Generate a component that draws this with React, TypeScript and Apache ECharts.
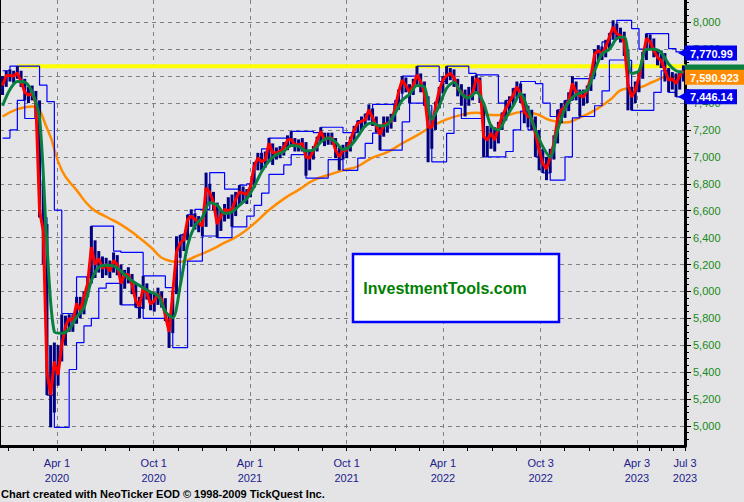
import React, { useEffect, useRef } from "react";
import * as echarts from "echarts";

// ---------- data (weekly, first week ending 2019-12-20) ----------
const firstWeek = "2019-12-20";

const closeVals = [
  7530, 7605, 7605, 7600, 7625, 7560, 7480, 7460, 7470, 7400,
  6600, 6450, 5400, 5230, 5480, 5380, 5600, 5740, 5800, 5780,
  5910, 5860, 5960, 6060, 6330, 6200, 6245, 6170, 6200, 6150,
  6230, 6200, 6060, 6125, 6125, 6050, 5930, 5890, 6030, 5990,
  5905, 5930, 5980, 5940, 5820, 5700, 5990, 6290, 6360, 6385,
  6535, 6560, 6535, 6510, 6485, 6770, 6735, 6660, 6500, 6560,
  6610, 6600, 6610, 6685, 6740, 6730, 6720, 6780, 6930, 6990,
  6965, 6980, 7100, 7030, 7030, 7040, 7065, 7125, 7130, 7090,
  7090, 7100, 7000, 6990, 7050, 7125, 7190, 7125, 7140, 7140,
  7050, 7000, 7050, 7050, 7125, 7200, 7250, 7265, 7275, 7350,
  7290, 7230, 7165, 7240, 7250, 7265, 7350, 7480, 7570, 7530,
  7480, 7530, 7610, 7560, 7470, 7220, 7220, 7370, 7495, 7570,
  7605, 7620, 7590, 7510, 7480, 7445, 7445, 7470, 7580, 7560,
  7150, 7125, 7175, 7125, 7220, 7300, 7360, 7410, 7460, 7520,
  7470, 7335, 7300, 7285, 7175, 7050, 6950, 6910, 7000, 7100,
  7280, 7350, 7370, 7420, 7545, 7480, 7455, 7445, 7495, 7595,
  7765, 7790, 7765, 7815, 7890, 7965, 7915, 7900, 7855, 7540,
  7445, 7495, 7595, 7740, 7880, 7855, 7790, 7740, 7715, 7645,
  7570, 7580, 7545, 7605, 7640,
];

const highVals = [
  7600, 7640, 7650, 7640, 7674, 7640, 7580, 7520, 7530, 7490,
  7420, 6830, 6500, 5600, 5620, 5600, 5830, 5820, 5830, 5830,
  5960, 5960, 6000, 6110, 6486, 6380, 6300, 6260, 6250, 6230,
  6290, 6270, 6200, 6160, 6180, 6130, 6060, 5960, 6115, 6060,
  6000, 5980, 6028, 6000, 5950, 5830, 6000, 6410, 6420, 6430,
  6570, 6610, 6580, 6560, 6540, 6883, 6800, 6740, 6660, 6600,
  6650, 6700, 6720, 6740, 6790, 6780, 6760, 6800, 6960, 7030,
  7030, 7040, 7140, 7100, 7070, 7080, 7110, 7160, 7190, 7140,
  7130, 7140, 7110, 7050, 7080, 7150, 7220, 7180, 7180, 7180,
  7140, 7070, 7090, 7110, 7150, 7230, 7270, 7300, 7320, 7390,
  7360, 7300, 7240, 7300, 7300, 7320, 7390, 7500, 7600, 7590,
  7540, 7580, 7674, 7620, 7560, 7450, 7300, 7410, 7520, 7600,
  7674, 7660, 7650, 7580, 7540, 7500, 7520, 7600, 7610, 7590,
  7400, 7230, 7240, 7220, 7260, 7330, 7420, 7450, 7510, 7560,
  7545, 7470, 7380, 7350, 7300, 7200, 7060, 7000, 7060, 7160,
  7350, 7400, 7420, 7480, 7600, 7560, 7500, 7500, 7530, 7620,
  7800, 7830, 7820, 7870, 7920, 8015, 7990, 7960, 7930, 7800,
  7520, 7560, 7640, 7780, 7916, 7910, 7880, 7800, 7790, 7771,
  7660, 7630, 7620, 7640, 7680,
];

const lowVals = [
  7460, 7520, 7560, 7550, 7580, 7520, 7420, 7400, 7420, 7290,
  6550, 6200, 5230, 4990, 5100, 5300, 5480, 5600, 5700, 5700,
  5760, 5800, 5830, 5960, 6060, 6100, 6140, 6100, 6120, 6100,
  6140, 6120, 5900, 6020, 6060, 5980, 5880, 5800, 5870, 5940,
  5860, 5850, 5900, 5880, 5780, 5580, 5690, 5980, 6250, 6300,
  6380, 6480, 6460, 6440, 6410, 6480, 6660, 6600, 6400, 6450,
  6520, 6540, 6480, 6560, 6640, 6660, 6650, 6700, 6770, 6900,
  6900, 6920, 6960, 6940, 6980, 6990, 7010, 7050, 7080, 7040,
  7040, 7040, 6860, 6900, 6980, 7040, 7110, 7080, 7090, 7090,
  6990, 6900, 6980, 6990, 7040, 7110, 7180, 7200, 7220, 7270,
  7230, 7180, 7050, 7150, 7180, 7210, 7260, 7350, 7470, 7480,
  7400, 7460, 7520, 7480, 7380, 6960, 7060, 7200, 7360, 7470,
  7540, 7570, 7520, 7450, 7380, 7300, 7380, 7420, 7480, 7400,
  7000, 7000, 7060, 7040, 7100, 7200, 7270, 7340, 7380, 7440,
  7400, 7250, 7220, 7200, 7000, 6900, 6880, 6827, 6880, 6980,
  7100, 7250, 7290, 7340, 7420, 7420, 7300, 7380, 7400, 7490,
  7600, 7720, 7720, 7740, 7800, 7870, 7870, 7850, 7750, 7346,
  7346, 7400, 7480, 7580, 7720, 7800, 7740, 7680, 7660, 7560,
  7480, 7500, 7446, 7500, 7560,
];

// every 2nd week
const greenMA = [
  7380, 7500, 7560, 7555, 7480, 7290, 6350, 5700, 5690, 5720,
  5810, 5880, 6080, 6180, 6195, 6190, 6150, 6100, 6060, 6028,
  5995, 5970, 5850, 5805, 6040, 6340, 6490, 6550, 6660, 6640,
  6580, 6590, 6640, 6690, 6780, 6890, 6970, 7015, 7040, 7085,
  7078, 7045, 7050, 7110, 7140, 7110, 7055, 7080, 7150, 7230,
  7251, 7230, 7240, 7320, 7420, 7465, 7530, 7520, 7280, 7380,
  7510, 7555, 7470, 7440, 7480, 7400, 7230, 7200, 7290, 7380,
  7470, 7350, 7200, 7075, 7000, 7200, 7360, 7440, 7475, 7495,
  7640, 7765, 7800, 7880, 7890, 7620, 7640, 7800, 7800, 7775,
  7690, 7640, 7630,
];

const upperBand = [
  7640, 7674, 7674, 7674, 7674, 7533, 7410, 6604, 5836, 5836,
  6108, 6108, 6486, 6486, 6486, 6300, 6290, 6290, 6290, 6115,
  6115, 6115, 6028, 6000, 6420, 6570, 6610, 6610, 6883, 6883,
  6760, 6760, 6790, 6800, 6960, 7060, 7140, 7140, 7140, 7190,
  7190, 7190, 7180, 7220, 7220, 7220, 7180, 7180, 7270, 7320,
  7390, 7390, 7390, 7420, 7600, 7600, 7674, 7674, 7674, 7560,
  7674, 7674, 7674, 7620, 7610, 7610, 7610, 7400, 7420, 7510,
  7560, 7560, 7545, 7400, 7300, 7350, 7420, 7581, 7581, 7581,
  7792, 7854, 7920, 8015, 8015, 7953, 7800, 7916, 7916, 7916,
  7804, 7780, 7770.99,
];

const lowerBand = [
  7140, 7200, 7420, 7285, 7285, 6550, 5230, 4990, 4990, 5420,
  5620, 5744, 5800, 6025, 6060, 6060, 5900, 5900, 5880, 5800,
  5800, 5800, 5780, 5582, 5582, 6226, 6226, 6412, 6412, 6400,
  6400, 6480, 6480, 6560, 6640, 6730, 6870, 6870, 6940, 7016,
  7016, 6842, 6842, 6842, 6980, 6980, 6900, 6900, 6990, 7100,
  7177, 7050, 7050, 7050, 7260, 7400, 7400, 7380, 6963, 6963,
  7174, 7360, 7285, 7285, 7285, 7000, 7000, 7000, 7040, 7200,
  7340, 7200, 7000, 6880, 6827, 6827, 7000, 7290, 7300, 7300,
  7380, 7490, 7720, 7720, 7717, 7346, 7346, 7346, 7480, 7640,
  7480, 7446, 7446.14,
];

// every 4th week
const orangeMA = [
  7300, 7355, 7375, 7215, 6901, 6753, 6620, 6555, 6497, 6420,
  6330, 6237, 6220, 6258, 6305, 6362, 6420, 6505, 6605, 6688,
  6755, 6825, 6865, 6900, 6930, 6995, 7035, 7100, 7160, 7225,
  7278, 7312, 7328, 7311, 7310, 7332, 7320, 7272, 7255, 7292,
  7346, 7420, 7505, 7515, 7560, 7597, 7590.923,
];

const yellowLevel = 7674;
const yellowFrom = "2020-01-17";

const xLabelDates = ["2020-04-01", "2020-10-01", "2021-04-01", "2021-10-01", "2022-04-01", "2022-10-03", "2023-04-03", "2023-07-03"];
const xLabelTexts = ["Apr 1\n2020", "Oct 1\n2020", "Apr 1\n2021", "Oct 1\n2021", "Apr 1\n2022", "Oct 3\n2022", "Apr 3\n2023", "Jul 3\n2023"];
const yLabelValues = [5000, 5200, 5400, 5600, 5800, 6000, 6200, 6400, 6600, 6800, 7000, 7200, 7400, 7600, 7800, 8000];

const footerText = "Chart created with NeoTicker EOD \u00a9 1998-2009 TickQuest Inc.";
const watermarkText = "InvestmentTools.com";

// ---------- helpers ----------
const DAY = 86400000;
const t = (s: string) => {
  const [y, m, d] = s.split("-").map(Number);
  return Date.UTC(y, m - 1, d);
};
const week0 = t(firstWeek);
const weekTime = (i: number) => week0 + i * 7 * DAY;
const labelTimes = xLabelDates.map(t);
const X_MIN = labelTimes[0] - 107.83 * DAY;
const X_MAX = labelTimes[labelTimes.length - 1];
const Y_MIN = 4851.5;
const Y_MAX = 8165.7;

// minor x ticks: quarter steps between label dates
const xTickTimes: number[] = [];
{
  const step0 = (labelTimes[1] - labelTimes[0]) / 4;
  xTickTimes.push(labelTimes[0] - 2 * step0, labelTimes[0] - step0);
  for (let k = 0; k < labelTimes.length - 1; k++) {
    const s = (labelTimes[k + 1] - labelTimes[k]) / 4;
    for (let j = 0; j < 4; j++) xTickTimes.push(labelTimes[k] + j * s);
  }
  xTickTimes.push(labelTimes[labelTimes.length - 1]);
}
const yMinorTicks: number[] = [];
for (let v = 4900; v <= 8150; v += 50) yMinorTicks.push(v);

const fmt = (v: number) => v.toLocaleString("en-US", { maximumFractionDigits: 3 });
const FONT = "Arial, 'Liberation Sans', sans-serif";

export default function App() {
  const ref = useRef<HTMLDivElement>(null);
  useEffect(() => {
    document.body.style.margin = "0";
    const chart = echarts.init(ref.current!, null, { renderer: "svg" });

    const ohlc = closeVals.map((_, i) => [weekTime(i), lowVals[i], highVals[i]]);
    const closeData = closeVals.map((v, i) => [weekTime(i), v]);
    const greenData = greenMA.map((v, k) => [weekTime(k * 2), v]);
    const upperData = upperBand.map((v, k) => [weekTime(k * 2), v]);
    const lowerData = lowerBand.map((v, k) => [weekTime(k * 2), v]);
    const orangeData = orangeMA.map((v, k) => [weekTime(k * 4), v]);

    const option: any = {
      animation: false,
      backgroundColor: "#e4e4e6",
      textStyle: { fontFamily: FONT },
      grid: { left: 0, right: 59, top: 0, bottom: 56, containLabel: false },
      xAxis: [
        {
          type: "value",
          min: X_MIN,
          max: X_MAX,
          axisLine: { show: true, lineStyle: { color: "#000", width: 3 } },
          axisTick: { show: true, customValues: xTickTimes, length: 5, lineStyle: { color: "#000", width: 1 } },
          axisLabel: { show: false },
          splitLine: { show: false },
        },
        {
          type: "value",
          min: X_MIN,
          max: X_MAX,
          position: "bottom",
          axisLine: { show: false },
          axisTick: { show: false, customValues: labelTimes },
          axisLabel: {
            show: true,
            customValues: labelTimes,
            formatter: (v: number) => {
              let k = 0;
              let best = Infinity;
              labelTimes.forEach((lt, j) => {
                const d = Math.abs(lt - v);
                if (d < best) { best = d; k = j; }
              });
              return xLabelTexts[k];
            },
            color: "#20208c",
            fontSize: 11,
            fontFamily: FONT,
            lineHeight: 15,
            margin: 9,
            showMinLabel: true,
            showMaxLabel: true,
          },
          splitLine: { show: true, lineStyle: { color: "#808080", type: [4, 4], width: 1 } },
        },
      ],
      yAxis: [
        {
          type: "value",
          position: "right",
          min: Y_MIN,
          max: Y_MAX,
          axisLine: { show: true, lineStyle: { color: "#000", width: 3 } },
          axisTick: { show: true, customValues: yLabelValues, length: 6, lineStyle: { color: "#000" } },
          axisLabel: {
            show: true,
            customValues: yLabelValues,
            formatter: (v: number) => fmt(Math.round(v)),
            color: "#178a17",
            fontSize: 11,
            fontFamily: FONT,
            margin: 8,
          },
          splitLine: { show: true, lineStyle: { color: "#808080", type: [4, 4], width: 1 } },
        },
        {
          type: "value",
          position: "right",
          min: Y_MIN,
          max: Y_MAX,
          axisLine: { show: false },
          axisTick: { show: true, customValues: yMinorTicks, length: 4, lineStyle: { color: "#000" } },
          axisLabel: { show: false },
          splitLine: { show: false },
        },
        {
          type: "value",
          position: "left",
          min: Y_MIN,
          max: Y_MAX,
          axisLine: { show: true, lineStyle: { color: "#000", width: 2 } },
          axisTick: { show: false },
          axisLabel: { show: false },
          splitLine: { show: false },
        },
      ],
      series: [
        {
          type: "line",
          name: "level",
          data: [[t(yellowFrom), yellowLevel], [X_MAX, yellowLevel]],
          symbol: "none",
          lineStyle: { color: "#ffff00", width: 4 },
          z: 1,
        },
        {
          type: "line",
          name: "ma long",
          data: orangeData,
          smooth: true,
          symbol: "none",
          lineStyle: { color: "#ff8c00", width: 2.5 },
          z: 2,
        },
        {
          type: "line",
          name: "upper",
          data: upperData,
          step: "end",
          symbol: "none",
          lineStyle: { color: "#0000ff", width: 1.2 },
          z: 3,
        },
        {
          type: "line",
          name: "lower",
          data: lowerData,
          step: "end",
          symbol: "none",
          lineStyle: { color: "#0000ff", width: 1.2 },
          z: 3,
        },
        {
          type: "custom",
          name: "range",
          data: ohlc,
          encode: { x: 0, y: [1, 2] },
          clip: true,
          z: 4,
          renderItem: (_p: any, api: any) => {
            const x = api.value(0);
            const a = api.coord([x, api.value(1)]);
            const b = api.coord([x, api.value(2)]);
            return {
              type: "line",
              shape: { x1: a[0], y1: a[1], x2: b[0], y2: b[1] },
              style: { stroke: "#000080", lineWidth: 3 },
            };
          },
        },
        {
          type: "line",
          name: "close",
          data: closeData,
          symbol: "none",
          lineStyle: { color: "#ff0000", width: 3 },
          z: 5,
        },
        {
          type: "line",
          name: "ma short",
          data: greenData,
          smooth: 0.3,
          symbol: "none",
          lineStyle: { color: "#0a8040", width: 3 },
          z: 6,
        },
      ],
      graphic: [
        {
          type: "rect",
          shape: { x: 353, y: 254, width: 206, height: 68 },
          style: { fill: "#ffffff", stroke: "#0000ff", lineWidth: 2.5 },
          z: 50,
        },
        {
          type: "text",
          x: 445,
          y: 288,
          style: {
            text: watermarkText,
            font: `bold 16px ${FONT}`,
            fill: "#008000",
            align: "center",
            verticalAlign: "middle",
          },
          z: 51,
        },
        {
          type: "text",
          x: 1,
          y: 494,
          style: { text: footerText, font: `bold 11px ${FONT}`, fill: "#000", verticalAlign: "middle" },
          z: 51,
        },
      ],
    };
    chart.setOption(option);

    // value boxes at the right axis
    const xr = chart.convertToPixel({ xAxisIndex: 0 }, X_MAX) as number;
    const box = (val: number, color: string, w: number, tri: boolean, withText: boolean, z: number) => {
      const yc = chart.convertToPixel({ yAxisIndex: 0 }, val) as number;
      const els: any[] = [
        {
          type: "rect",
          shape: { x: xr, y: yc - 7.5, width: w, height: 15 },
          style: { fill: color },
          z,
        },
      ];
      if (withText) {
        els.push({
          type: "text",
          x: xr + 5,
          y: yc + 0.5,
          style: { text: fmt(val), font: `bold 11px ${FONT}`, fill: "#ffffff", verticalAlign: "middle" },
          z: z + 1,
        });
      }
      if (tri) {
        els.push({
          type: "polygon",
          shape: { points: [[xr - 7, yc], [xr, yc - 4], [xr, yc + 4]] },
          style: { fill: color },
          z,
        });
      }
      return els;
    };
    const lastGreen = greenMA[greenMA.length - 1];
    const lastOrange = orangeMA[orangeMA.length - 1];
    const lastUpper = upperBand[upperBand.length - 1];
    const lastLower = lowerBand[lowerBand.length - 1];
    const boxes = [
      ...box(lastGreen, "#0a8040", 744 - xr, false, false, 58),
      ...box(lastOrange, "#ff8c00", 744 - xr, false, true, 60),
      ...box(lastUpper, "#0000ee", 52, true, true, 60),
      ...box(lastLower, "#0000ee", 52, true, true, 60),
    ];
    chart.setOption({ graphic: [...option.graphic, ...boxes] });

    return () => chart.dispose();
  }, []);
  return (
    <div
      ref={ref}
      style={{ position: "absolute", left: 0, top: 0, width: 744, height: 502, background: "#e4e4e6" }}
    />
  );
}
